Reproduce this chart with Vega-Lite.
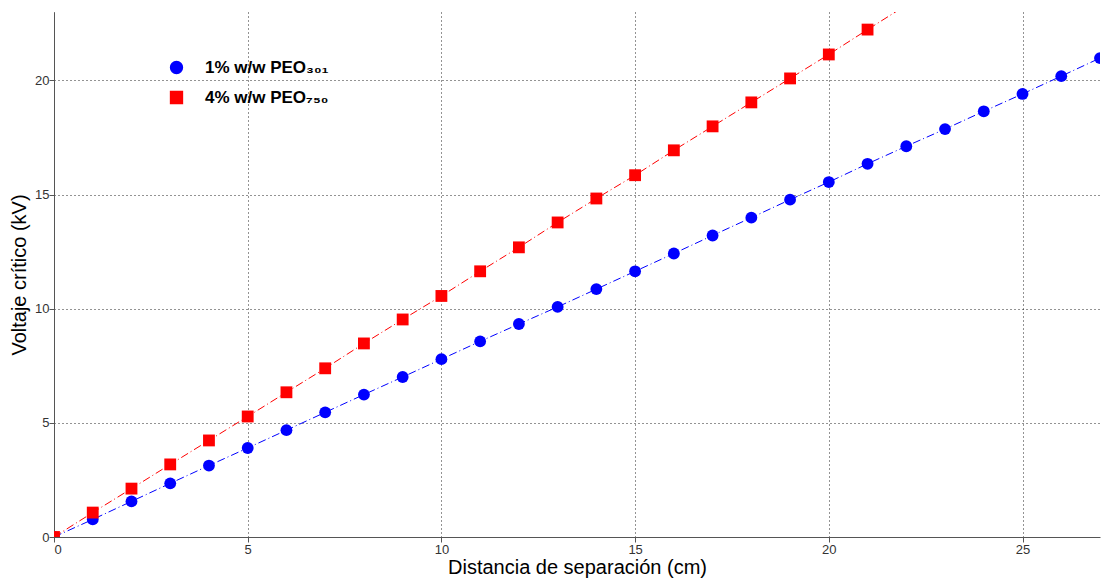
{
  "$schema": "https://vega.github.io/schema/vega-lite/v6.json",
  "autosize": {"type": "none"},
  "width": 1046,
  "height": 525,
  "padding": {"left": 54, "top": 12, "right": 5, "bottom": 45},
  "background": "white",
  "config": {"view": {"stroke": null}, "font": "Liberation Sans"},
  "data": {"values": [
    {"x": 0, "y": 0, "s": "1% w/w PEO301"},
    {"x": 1, "y": 0.77, "s": "1% w/w PEO301"},
    {"x": 2, "y": 1.56, "s": "1% w/w PEO301"},
    {"x": 3, "y": 2.35, "s": "1% w/w PEO301"},
    {"x": 4, "y": 3.13, "s": "1% w/w PEO301"},
    {"x": 5, "y": 3.9, "s": "1% w/w PEO301"},
    {"x": 6, "y": 4.68, "s": "1% w/w PEO301"},
    {"x": 7, "y": 5.46, "s": "1% w/w PEO301"},
    {"x": 8, "y": 6.24, "s": "1% w/w PEO301"},
    {"x": 9, "y": 7.01, "s": "1% w/w PEO301"},
    {"x": 10, "y": 7.79, "s": "1% w/w PEO301"},
    {"x": 11, "y": 8.57, "s": "1% w/w PEO301"},
    {"x": 12, "y": 9.33, "s": "1% w/w PEO301"},
    {"x": 13, "y": 10.08, "s": "1% w/w PEO301"},
    {"x": 14, "y": 10.86, "s": "1% w/w PEO301"},
    {"x": 15, "y": 11.64, "s": "1% w/w PEO301"},
    {"x": 16, "y": 12.42, "s": "1% w/w PEO301"},
    {"x": 17, "y": 13.21, "s": "1% w/w PEO301"},
    {"x": 18, "y": 13.99, "s": "1% w/w PEO301"},
    {"x": 19, "y": 14.78, "s": "1% w/w PEO301"},
    {"x": 20, "y": 15.55, "s": "1% w/w PEO301"},
    {"x": 21, "y": 16.35, "s": "1% w/w PEO301"},
    {"x": 22, "y": 17.12, "s": "1% w/w PEO301"},
    {"x": 23, "y": 17.87, "s": "1% w/w PEO301"},
    {"x": 24, "y": 18.65, "s": "1% w/w PEO301"},
    {"x": 25, "y": 19.41, "s": "1% w/w PEO301"},
    {"x": 26, "y": 20.19, "s": "1% w/w PEO301"},
    {"x": 27, "y": 20.98, "s": "1% w/w PEO301"},
    {"x": 0, "y": 0, "s": "4% w/w PEO750"},
    {"x": 1, "y": 1.07, "s": "4% w/w PEO750"},
    {"x": 2, "y": 2.12, "s": "4% w/w PEO750"},
    {"x": 3, "y": 3.18, "s": "4% w/w PEO750"},
    {"x": 4, "y": 4.23, "s": "4% w/w PEO750"},
    {"x": 5, "y": 5.28, "s": "4% w/w PEO750"},
    {"x": 6, "y": 6.34, "s": "4% w/w PEO750"},
    {"x": 7, "y": 7.39, "s": "4% w/w PEO750"},
    {"x": 8, "y": 8.48, "s": "4% w/w PEO750"},
    {"x": 9, "y": 9.53, "s": "4% w/w PEO750"},
    {"x": 10, "y": 10.56, "s": "4% w/w PEO750"},
    {"x": 11, "y": 11.64, "s": "4% w/w PEO750"},
    {"x": 12, "y": 12.69, "s": "4% w/w PEO750"},
    {"x": 13, "y": 13.78, "s": "4% w/w PEO750"},
    {"x": 14, "y": 14.83, "s": "4% w/w PEO750"},
    {"x": 15, "y": 15.85, "s": "4% w/w PEO750"},
    {"x": 16, "y": 16.94, "s": "4% w/w PEO750"},
    {"x": 17, "y": 17.99, "s": "4% w/w PEO750"},
    {"x": 18, "y": 19.04, "s": "4% w/w PEO750"},
    {"x": 19, "y": 20.09, "s": "4% w/w PEO750"},
    {"x": 20, "y": 21.14, "s": "4% w/w PEO750"},
    {"x": 21, "y": 22.23, "s": "4% w/w PEO750"},
    {"x": 22, "y": 23.3, "s": "4% w/w PEO750"}
  ]},
  "encoding": {
    "x": {
      "field": "x", "type": "quantitative",
      "scale": {"domain": [0, 27], "nice": false, "zero": false},
      "axis": {
        "title": "Distancia de separación (cm)",
        "values": [0, 5, 10, 15, 20, 25],
        "grid": true, "gridColor": "#000000", "gridDash": [1, 3], "gridOpacity": 0.85,
        "domainColor": "#555555", "tickColor": "#555555", "tickSize": 5,
        "labelFont": "Liberation Sans", "labelFontSize": 13, "labelColor": "#333333",
        "labelPadding": 1,
        "titleFont": "Liberation Sans", "titleFontSize": 20, "titleFontWeight": "normal", "titleColor": "#000000",
        "titlePadding": 1
      }
    },
    "y": {
      "field": "y", "type": "quantitative",
      "scale": {"domain": [0, 23], "nice": false, "zero": false},
      "axis": {
        "title": "Voltaje crítico (kV)",
        "values": [0, 5, 10, 15, 20],
        "grid": true, "gridColor": "#000000", "gridDash": [1, 3], "gridOpacity": 0.85,
        "domainColor": "#555555", "tickColor": "#555555", "tickSize": 5,
        "labelFont": "Liberation Sans", "labelFontSize": 13, "labelColor": "#333333",
        "labelPadding": 0,
        "titleFont": "Liberation Sans", "titleFontSize": 20, "titleFontWeight": "normal", "titleColor": "#000000",
        "titlePadding": 5
      }
    },
    "color": {
      "field": "s", "type": "nominal",
      "scale": {"domain": ["1% w/w PEO301", "4% w/w PEO750"], "range": ["#0000ff", "#ff0000"]},
      "legend": {
        "orient": "none", "legendX": 114, "legendY": 47, "title": null,
        "labelFont": "Liberation Sans", "labelFontSize": 17, "labelFontWeight": "bold", "labelColor": "#000000",
        "labelExpr": "datum.label == '1% w/w PEO301' ? '1% w/w PEO₃₀₁' : '4% w/w PEO₇₅₀'",
        "symbolSize": 140, "rowPadding": 11, "labelOffset": 20, "labelLimit": 300
      }
    },
    "shape": {
      "field": "s", "type": "nominal",
      "scale": {"domain": ["1% w/w PEO301", "4% w/w PEO750"], "range": ["circle", "square"]},
      "legend": {
        "orient": "none", "legendX": 114, "legendY": 47, "title": null,
        "labelFont": "Liberation Sans", "labelFontSize": 17, "labelFontWeight": "bold", "labelColor": "#000000",
        "labelExpr": "datum.label == '1% w/w PEO301' ? '1% w/w PEO₃₀₁' : '4% w/w PEO₇₅₀'",
        "symbolSize": 140, "rowPadding": 11, "labelOffset": 20, "labelLimit": 300
      }
    }
  },
  "layer": [
    {
      "mark": {"type": "line", "clip": true, "strokeWidth": 1, "strokeDash": [8, 3, 1, 3]},
      "encoding": {"shape": {"value": "circle"}, "detail": {"field": "s"}}
    },
    {
      "mark": {"type": "point", "filled": true, "opacity": 1, "size": 140, "clip": true}
    }
  ]
}
